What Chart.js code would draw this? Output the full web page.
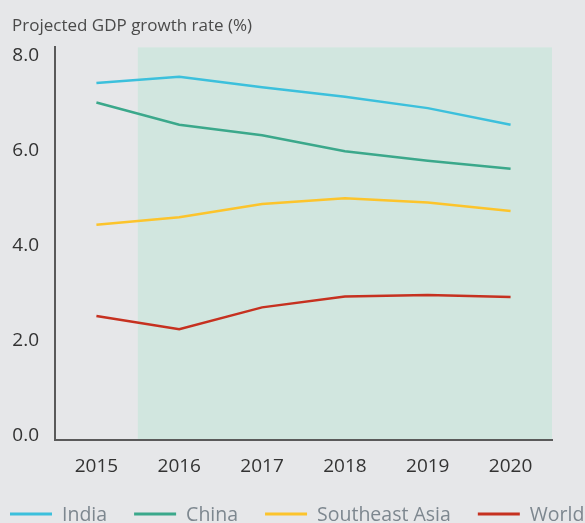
<!DOCTYPE html>
<html>
<head>
<meta charset="utf-8">
<script src="https://cdn.jsdelivr.net/npm/chart.js@4.4.1/dist/chart.umd.min.js"></script>
<style>
  html, body { margin: 0; padding: 0; background: #e6e7e9; overflow: hidden; }
  #wrap { position: relative; width: 585px; height: 523px; }
</style>
</head>
<body>
<div id="wrap"><canvas id="gdpChart"></canvas></div>
<script>
// Años y tasas de crecimiento proyectadas (%)
const years = ['2015', '2016', '2017', '2018', '2019', '2020'];
const india = [7.43, 7.56, 7.34, 7.14, 6.90, 6.55];
const china = [7.02, 6.55, 6.33, 5.99, 5.79, 5.62];
const southeastAsia = [4.44, 4.60, 4.88, 5.00, 4.91, 4.73];
const world = [2.52, 2.24, 2.70, 2.93, 2.96, 2.92];
const yTicks = [0, 2, 4, 6, 8];

const colors = {
    india: '#3cc0dc',
    china: '#3ba88b',
    sea: '#fcc42c',
    world: '#c63120',
    shade: '#d1e6df',
    axis: '#5a5a5a'
};

const fontFamily = '"Open Sans", "Noto Sans", sans-serif';

// Zona sombreada: desde la mitad entre 2015 y 2016 hasta el final del eje.
// Se pinta antes que los ejes para que la línea del eje X quede encima.
const projectionShade = {
    id: 'projectionShade',
    beforeDraw(chart) {
        const { ctx, chartArea, scales } = chart;
        const x0 = (scales.x.getPixelForValue(0) + scales.x.getPixelForValue(1)) / 2;
        ctx.save();
        ctx.fillStyle = colors.shade;
        ctx.fillRect(x0, chartArea.top, chartArea.right - x0, chartArea.bottom - chartArea.top);
        ctx.restore();
    }
};

// Leyenda dibujada a mano en la parte inferior
const bottomLegend = {
    id: 'bottomLegend',
    afterDraw(chart) {
        const { ctx } = chart;
        const y = 514;
        let x = 10;
        ctx.save();
        ctx.font = '19.5px ' + fontFamily;
        ctx.textBaseline = 'middle';
        chart.data.datasets.forEach(ds => {
            ctx.strokeStyle = ds.borderColor;
            ctx.lineWidth = 3;
            ctx.beginPath();
            ctx.moveTo(x, y);
            ctx.lineTo(x + 42, y);
            ctx.stroke();
            ctx.fillStyle = '#7d878f';
            ctx.fillText(ds.label, x + 52, y + 1);
            x += 52 + ctx.measureText(ds.label).width + 27;
        });
        ctx.restore();
    }
};

function lineSet(label, data, color) {
    return {
        label: label,
        data: data,
        borderColor: color,
        backgroundColor: color,
        borderWidth: 2.5,
        pointRadius: 0,
        tension: 0
    };
}

new Chart(document.getElementById('gdpChart'), {
    type: 'line',
    data: {
        labels: years,
        datasets: [
            lineSet('India', india, colors.india),
            lineSet('China', china, colors.china),
            lineSet('Southeast Asia', southeastAsia, colors.sea),
            lineSet('World', world, colors.world)
        ]
    },
    options: {
        responsive: true,
        maintainAspectRatio: false,
        animation: false,
        layout: { padding: { left: 12, right: 33, top: 0, bottom: 30 } },
        plugins: {
            legend: { display: false },
            tooltip: { enabled: false },
            title: {
                display: true,
                text: 'Projected GDP growth rate (%)',
                align: 'start',
                color: '#4a4a4a',
                font: { family: fontFamily, size: 17, weight: 'normal' },
                padding: { top: 16, bottom: 11 }
            }
        },
        scales: {
            x: {
                offset: true,
                grid: { display: false, drawTicks: false },
                border: { display: true, color: colors.axis, width: 2 },
                ticks: {
                    color: '#333',
                    padding: 15,
                    font: { family: fontFamily, size: 19 }
                }
            },
            y: {
                min: -0.1,
                max: 8.18,
                grid: { display: false, drawTicks: false },
                border: { display: true, color: colors.axis, width: 2 },
                afterBuildTicks(scale) {
                    scale.ticks = yTicks.map(v => ({ value: v }));
                },
                afterFit(scale) {
                    scale.width = 43;
                },
                ticks: {
                    color: '#333',
                    padding: 16,
                    font: { family: fontFamily, size: 19 },
                    callback: v => v.toFixed(1)
                }
            }
        }
    },
    plugins: [projectionShade, bottomLegend]
});
</script>
</body>
</html>
